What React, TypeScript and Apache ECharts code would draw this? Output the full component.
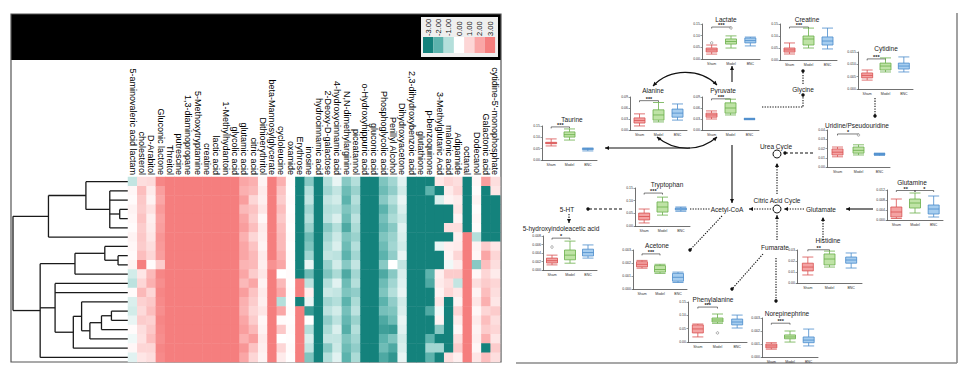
import React, { useEffect, useRef } from 'react';
import * as echarts from 'echarts';

const FONT = 'Liberation Sans, Arial, sans-serif';

// ---------- heatmap data ----------
const metaboliteLabels = [
  '5-aminovaleric acid lactam', 'cholesterol', 'D-Arabitol', 'Gluconic lactone', 'Threitol', 'putrescine',
  '1,3-diaminopropane', '5-Methoxytryptamine', 'creatine', 'lactic acid', '1-Methylhydantoin', 'glycolic acid',
  'glutamic acid', 'citric acid', 'Dithioerythritol', 'beta-Mannosylglycerate', 'cycloleucine', 'oxamide',
  'Erythrose', 'inosine', 'hydrocinnamic acid', '2-Deoxy-D-galactose', '4-hydroxycinnamic acid',
  'N,N-dimethylarginine', 'piceatannol', 'o-Hydroxyhippuric acid', 'gluconic acid', 'Phosphoglycolic acid',
  'Perillyl Alcohol', 'Dihydroxyacetone', '2,3-dihydroxybenzoic acid', 'glutathione', 'p-benzoquinone',
  '3-Methylglutaric Acid', 'malonic acid', 'Adipamide', 'octanal', 'Dodecanol', 'Galactonic acid',
  "cytidine-5'-monophosphate",
];

const sampleRows = ['1','2','3','4','5','6','7','8','9','10','11','12','13','14','15','16','17','18','19','20'];

// one array per metabolite column (20 samples each, top to bottom)
const heatColumns: number[][] = [
  [-0.8, 0.2, 0.1, 0.3, 0.2, 0.1, 0.3, 0.2, 0.1, 0.3, -0.6, -0.9, 0.1, -0.5, -0.6, -0.3, 0.1, -0.2, 0.2, -0.4],
  [0.8, 1.5, 1.3, 1.2, 1.4, 1.2, 1.3, 1.2, 1.5, 3.0, 0.6, 1.0, 1.6, 1.1, 0.9, 1.2, 0.8, 0.7, 1.0, 0.6],
  [0.9, 0.5, 0.3, 0.7, 0.4, 0.5, 0.6, 0.8, 1.0, 0.1, 1.6, 1.8, 1.0, 1.3, 1.5, 1.1, 1.3, 1.5, 1.0, 0.8],
  [2.8, 2.2, 2.0, 2.3, 2.1, 2.2, 2.4, 2.3, 2.2, 1.2, 2.8, 2.6, 2.8, 2.7, 2.6, 2.8, 2.7, 2.6, 2.8, 2.7],
  [3, 3, 3, 3, 3, 3, 3, 3, 3, 3, 3, 3, 3, 3, 3, 3, 3, 3, 3, 3],
  [3, 3, 3, 3, 3, 3, 3, 3, 3, 3, 3, 3, 3, 3, 3, 3, 3, 3, 3, 3],
  [3, 3, 3, 3, 3, 3, 3, 3, 3, 3, 3, 3, 3, 3, 3, 3, 3, 3, 3, 3],
  [3, 3, 3, 3, 3, 3, 3, 3, 3, 3, 3, 3, 3, 3, 3, 3, 3, 3, 3, 3],
  [3, 3, 3, 3, 3, 3, 3, 3, 3, 3, 3, 3, 3, 3, 3, 3, 3, 3, 3, 3],
  [3, 3, 3, 3, 3, 3, 3, 3, 3, 3, 3, 3, 3, 3, 3, 3, 3, 3, 3, 3],
  [3, 3, 3, 3, 3, 3, 3, 3, 3, 3, 3, 3, 3, 3, 3, 3, 3, 3, 3, 3],
  [3, 3, 3, 3, 3, 3, 3, 3, 3, 3, 3, 3, 3, 3, 3, 3, 3, 3, 3, 3],
  [2.0, 1.8, 2.2, 1.6, 2.0, 2.2, 1.8, 2.0, 2.0, 1.7, 2.0, 1.6, 2.2, 1.8, 1.7, 2.0, 2.2, 1.8, 2.4, 2.0],
  [1.8, 1.6, 1.0, 1.4, 1.2, 1.5, 1.0, 1.4, 1.6, 1.6, 1.2, 2.0, 1.4, 1.2, 1.0, 1.2, 1.6, 2.2, 1.4, 1.0],
  [0.3, 0.5, 0.4, 0.6, 0.2, 0.5, 0.4, 0.3, 0.5, 0.4, 0.6, 0.3, 0.5, 0.4, 0.6, 0.2, 0.3, 0.5, 0.4, 0.3],
  [3, 3, 3, 3, 3, 3, 3, 3, 3, 2.5, 3, 3, 3, 3, 3, 3, 3, 3, 3, 3],
  [1.8, 1.4, 1.2, 1.5, 1.3, 1.5, 1.6, 1.6, 1.8, 2.0, 0.0, 1.6, 2.0, -1.0, 2.0, 0.1, 1.3, 0.0, 1.0, 0.5],
  [0.1, 0.05, 0.1, 0.05, 0.1, 0.05, 0.1, 0.05, 0.1, 0.05, 0.1, 0.05, 0.1, 0.05, 0.1, 0.05, 0.1, 0.05, 0.1, 0.05],
  [-3, -3, -3, -3, -3, -3, -3, -3, -3, -3, -3, 3, 3, -3, 3, 3, 3, 3, 3, 3],
  [-1.5, -1.0, -0.8, -1.2, -1.0, -1.3, -1.8, -1.6, -1.2, -0.3, -1.8, -0.9, 0.4, -0.3, -2.5, 0.0, -1.0, -0.5, -0.8, -1.6],
  [-3, -3, -3, -3, -3, -3, -3, -3, -3, -3, -3, -3, -3, -3, -3, -3, -3, -3, -3, -3],
  [-1.0, -1.2, -0.8, -1.0, -0.9, -1.5, -1.2, -1.0, -0.8, -1.3, -1.6, -1.0, -0.7, -1.2, -0.9, -1.4, -1.1, -0.8, -1.5, -1.0],
  [-0.3, -0.8, -0.6, -0.9, -0.5, -1.0, -0.7, -0.5, -0.9, -0.6, -1.1, -0.4, -0.8, -1.0, -0.6, -0.9, -0.5, -0.8, -0.7, -0.4],
  [-1.5, -1.8, -2.0, -1.6, -1.8, -2.2, -1.6, -1.8, -2.0, -1.5, -2.2, -1.8, -1.6, -2.0, -1.7, -1.9, -2.1, -1.6, -1.8, -2.0],
  [-1.0, -1.3, -1.0, -1.2, -0.9, -1.1, -1.3, -1.0, -1.2, -0.8, -1.2, -1.0, -1.4, -1.1, -0.9, -1.3, -1.0, -1.2, -1.4, -1.1],
  [-3, -3, -3, -3, -3, -3, -3, -3, -3, -3, -3, -3, -3, -3, -3, -3, -3, -3, -3, -3],
  [-3, -3, -3, -3, -3, -3, -3, -3, -3, -3, -3, -3, -3, -3, -3, -3, -3, -3, -3, -3],
  [-1.6, -1.8, -1.5, -2.0, -1.7, -1.9, -1.6, -1.8, -2.0, -1.5, -2.2, -1.8, -1.6, -2.0, -1.7, -2.2, -2.4, -2.0, -1.8, -2.2],
  [-1.2, -1.4, -1.0, -1.3, -1.1, -1.5, -1.3, -1.2, -1.4, 0.0, -1.5, -1.2, -1.0, -1.4, -1.6, -1.8, -2.5, -1.6, -2.2, -2.6],
  [-0.4, -0.6, -0.3, -0.5, -0.7, -0.4, -0.5, -0.6, -0.3, -0.8, -0.5, -0.4, -0.3, -0.6, -0.5, -0.3, -0.4, -0.6, -0.5, -0.3],
  [-3, -3, -3, -3, -3, -3, -3, -3, -3, -3, -3, -3, -3, -3, -3, -3, -3, -3, -3, -3],
  [-3, -3, -3, -3, -3, -3, -3, -3, -3, -3, -3, -3, -3, -3, -3, -3, -3, -3, -3, -3],
  [-3, -2.0, -3, -3, -3, -3, -3, -3, -3, -3, -2.0, -2.2, -3, -3, -2.2, -3, -3, -2.0, -1.2, -2.0],
  [0.6, -3, -0.5, -3, -3, -3, -3, -0.3, -3, -3, 0.4, 0.5, 0.3, 0.6, -0.2, 0.3, -1.5, -3, -1.2, -3],
  [1.0, 0.5, 0.3, -3, -3, 0.8, -3, 0.4, 0.3, -0.2, 1.2, 0.8, 1.0, -3, -3, -3, -3, -3, -3, 0.8],
  [0.8, 1.0, 0.5, 0.6, 0.3, 0.8, 0.4, 0.5, 1.0, 0.5, 1.2, -0.8, 0.6, 0.3, 1.0, 0.5, 0.2, 0.8, 1.2, 0.4],
  [-3, -3, -3, -3, -3, -3, 3, 3, 3, 3, 3, 3, 3, 3, 3, 3, 3, 3, 3, 3],
  [0.2, 0.1, 0.3, 0.1, 0.2, 0.1, -1.0, 0.3, 0.2, -1.5, 0.2, 0.8, 0.3, 0.6, 0.2, 0.5, 0.3, 0.4, 0.2, 0.6],
  [2.2, -3, -3, -3, -3, -3, -3, 1.2, 2.0, 1.5, 1.0, 1.2, 1.5, 1.8, 1.0, 1.5, 1.2, 1.8, -3, 1.5],
  [0.8, 0.6, -3, -3, -3, -3, -3, 0.6, 1.0, 0.8, 0.5, 1.0, 0.8, 0.6, 1.2, 0.8, 1.0, 0.6, 1.2, 0.8],
];

// dendrogram: [height, ...children]; a number is a leaf (row index)
const dendroTree: any = [347,
  [240, [127, 0, [55, 1, 2, [25, 3, 4], 5]], 6],
  [265,
    [160, [70, 7, [30, 8, 9]], 10],
    [220, 11, 12, [165, [140, 13, [115, [80, [50, 14, 15], 16], 17]], 18]],
    19],
];

const legendTicks = [-3, -2, -1, 0, 1, 2, 3];
const heatPalette = ['#14827c', '#5cb3ad', '#b4dfdb', '#ffffff', '#fdd6d6', '#faa6a6', '#f57e7e'];

// ---------- boxplot data: [min, Q1, median, Q3, max] for Sham, Model, BNC ----------
const groups = ['Sham', 'Model', 'BNC'];
const lactateBoxes = [[0.021, 0.030, 0.039, 0.047, 0.060], [0.047, 0.064, 0.075, 0.086, 0.099], [0.056, 0.069, 0.079, 0.090, 0.094]];
const creatineBoxes = [[0.025, 0.033, 0.042, 0.050, 0.071], [0.050, 0.0625, 0.0875, 0.100, 0.133], [0.046, 0.0625, 0.079, 0.096, 0.133]];
const cytidineBoxes = [[0.0036, 0.0045, 0.0055, 0.0065, 0.0077], [0.0069, 0.0077, 0.0093, 0.0105, 0.0126], [0.0069, 0.0081, 0.0093, 0.0105, 0.0130]];
const alanineBoxes = [[0.011, 0.019, 0.026, 0.033, 0.044], [0.022, 0.027, 0.041, 0.055, 0.075], [0.027, 0.035, 0.046, 0.057, 0.071]];
const pyruvateBoxes = [[0.030, 0.035, 0.041, 0.046, 0.052], [0.041, 0.046, 0.060, 0.074, 0.084], [0.028, 0.029, 0.030, 0.031, 0.032]];
const taurineBoxes = [[0.062, 0.072, 0.075, 0.078, 0.093], [0.088, 0.101, 0.112, 0.124, 0.137], [0.040, 0.047, 0.0485, 0.050, 0.053]];
const uridineBoxes = [[0.011, 0.013, 0.016, 0.0195, 0.0216], [0.013, 0.015, 0.018, 0.0216, 0.024], [0.0125, 0.0135, 0.014, 0.0145, 0.015]];
const tryptophanBoxes = [[0.012, 0.024, 0.0375, 0.051, 0.067], [0.043, 0.055, 0.075, 0.095, 0.114], [0.058, 0.063, 0.067, 0.071, 0.075]];
const glutamineBoxes = [[0.0006, 0.0012, 0.0032, 0.0052, 0.0084], [0.0028, 0.0048, 0.0068, 0.0084, 0.0108], [0.0012, 0.0024, 0.0044, 0.0060, 0.0096]];
const hiaaBoxes = [[0.0012, 0.00165, 0.0022, 0.0028, 0.0035], [0.0016, 0.0024, 0.0035, 0.0047, 0.0068], [0.0028, 0.0033, 0.0041, 0.0049, 0.0059]];
const acetoneBoxes = [[0.0016, 0.0017, 0.0019, 0.0021, 0.0022], [0.0012, 0.0013, 0.0015, 0.0018, 0.0019], [0.0005, 0.0006, 0.0009, 0.0012, 0.0013]];
const histidineBoxes = [[0.0073, 0.011, 0.0145, 0.018, 0.0236], [0.0145, 0.0164, 0.0218, 0.0264, 0.029], [0.0136, 0.018, 0.0209, 0.0236, 0.0273]];
const phenylalanineBoxes = [[0.019, 0.034, 0.049, 0.064, 0.0675], [0.070, 0.075, 0.0825, 0.090, 0.105], [0.0525, 0.064, 0.075, 0.086, 0.101]];
const norepinephrineBoxes = [[0.0006, 0.0007, 0.00085, 0.0010, 0.0011], [0.00115, 0.0014, 0.00154, 0.0017, 0.0020], [0.00085, 0.0011, 0.0013, 0.00154, 0.00215]];

// outliers: [groupIndex, value]
const lactateOutliers = [[0, 0.069], [1, 0.133]];
const uridineOutliers = [[1, 0.0346]];
const hiaaOutliers = [[0, 0.0054]];
const phenylalanineOutliers = [[1, 0.034]];

// significance: [fromGroup, toGroup, value, label]
const lactateSig = [[0, 1, 0.137, '***']];
const creatineSig = [[0, 1, 0.1375, '***']];
const cytidineSig = [[0, 1, 0.0122, '***']];
const alanineSig = [[0, 1, 0.080, '***']];
const pyruvateSig = [[0, 1, 0.085, '***']];
const taurineSig = [[0, 1, 0.146, '***']];
const uridineSig = [[0, 1, 0.0357, '*']];
const tryptophanSig = [[0, 1, 0.13, '***']];
const glutamineSig = [[0, 1, 0.0118, '**'], [1, 2, 0.0118, '*']];
const hiaaSig = [[0, 1, 0.0075, '*']];
const acetoneSig = [[0, 1, 0.0027, '***']];
const histidineSig = [[0, 1, 0.0302, '**']];
const phenylalanineSig = [[0, 1, 0.131, '***']];
const norepinephrineSig = [[0, 1, 0.0026, '***']];

// layout (positions and axis ranges only)
const panels = [
  { name: 'Lactate', boxes: lactateBoxes, out: lactateOutliers, sig: lactateSig, left: 702, top: 24, w: 58, h: 35, max: 0.15, step: 0.05, dec: 2, tx: 726, ty: 19 },
  { name: 'Creatine', boxes: creatineBoxes, out: [], sig: creatineSig, left: 780, top: 24, w: 57, h: 36, max: 0.15, step: 0.05, dec: 2, tx: 807, ty: 19 },
  { name: 'Cytidine', boxes: cytidineBoxes, out: [], sig: cytidineSig, left: 858, top: 52, w: 55, h: 37, max: 0.015, step: 0.005, dec: 3, tx: 886, ty: 48 },
  { name: 'Alanine', boxes: alanineBoxes, out: [], sig: alanineSig, left: 630, top: 97, w: 57, h: 33, max: 0.09, step: 0.03, dec: 2, tx: 653, ty: 90.5 },
  { name: 'Pyruvate', boxes: pyruvateBoxes, out: [], sig: pyruvateSig, left: 702, top: 97, w: 57, h: 33, max: 0.09, step: 0.03, dec: 2, tx: 723, ty: 90.5 },
  { name: 'Taurine', boxes: taurineBoxes, out: [], sig: taurineSig, left: 542, top: 126, w: 55, h: 34, max: 0.15, step: 0.05, dec: 2, tx: 572, ty: 119 },
  { name: 'Uridine/Pseudouridine', boxes: uridineBoxes, out: uridineOutliers, sig: uridineSig, left: 827, top: 130, w: 63, h: 37, max: 0.04, step: 0.01, dec: 2, tx: 857, ty: 125 },
  { name: 'Tryptophan', boxes: tryptophanBoxes, out: [], sig: tryptophanSig, left: 635, top: 188, w: 55, h: 38, max: 0.15, step: 0.05, dec: 2, tx: 667, ty: 184 },
  { name: 'Glutamine', boxes: glutamineBoxes, out: [], sig: glutamineSig, left: 887, top: 190, w: 56, h: 30, max: 0.012, step: 0.004, dec: 3, tx: 912, ty: 182 },
  { name: '5-hydroxyindoleacetic acid', boxes: hiaaBoxes, out: hiaaOutliers, sig: hiaaSig, left: 543, top: 236, w: 54, h: 34, max: 0.008, step: 0.002, dec: 3, tx: 561, ty: 228 },
  { name: 'Acetone', boxes: acetoneBoxes, out: [], sig: acetoneSig, left: 633, top: 250, w: 54, h: 39, max: 0.003, step: 0.001, dec: 3, tx: 657, ty: 245 },
  { name: 'Histidine', boxes: histidineBoxes, out: [], sig: histidineSig, left: 797, top: 250, w: 65, h: 33, max: 0.03, step: 0.01, dec: 2, tx: 828, ty: 240 },
  { name: 'Phenylalanine', boxes: phenylalanineBoxes, out: phenylalanineOutliers, sig: phenylalanineSig, left: 688, top: 302, w: 59, h: 40, max: 0.15, step: 0.05, dec: 2, tx: 713, ty: 299 },
  { name: 'Norepinephrine', boxes: norepinephrineBoxes, out: [], sig: norepinephrineSig, left: 762, top: 318, w: 56, h: 39, max: 0.003, step: 0.001, dec: 3, tx: 787, ty: 313 },
];

const boxFills = ['#f4a3a3', '#bfe3a6', '#a6cdef'];
const boxStrokes = ['#d85050', '#6aae4a', '#4a8ccc'];

// pathway text nodes
const pathwayLabels = [
  { text: 'Glycine', x: 803, y: 89 },
  { text: 'Urea Cycle', x: 776, y: 146 },
  { text: 'Citric Acid Cycle', x: 777, y: 200 },
  { text: 'Acetyl-CoA', x: 727, y: 209 },
  { text: 'Glutamate', x: 821, y: 209 },
  { text: '5-HT', x: 567, y: 209 },
  { text: 'Fumarate', x: 775, y: 247 },
];
const cycleCircles = [[777, 154], [777, 209]];

// arrows: points, style, head
const arrows: any[] = [
  { p: [[732, 82], [732, 66]], s: 'solid', h: 'tri' },
  { p: [[803, 84], [803, 71]], s: 'dot', h: 'dot' },
  { p: [[762, 107], [803, 107], [803, 95]], s: 'dot', h: 'dot' },
  { p: [[875, 98], [875, 116]], s: 'dot', h: 'dot' },
  { p: [[690, 148], [605, 148]], s: 'solid', h: 'tri' },
  { p: [[732, 145], [732, 203]], s: 'solid', h: 'tri' },
  { p: [[813, 153], [785, 153]], s: 'dash', h: 'dot' },
  { p: [[777, 194], [777, 163]], s: 'dot', h: 'tri' },
  { p: [[873, 209], [846, 209]], s: 'solid', h: 'tri' },
  { p: [[804, 209], [784, 209]], s: 'dot', h: 'tri' },
  { p: [[771, 209], [749, 209]], s: 'dot', h: 'tri' },
  { p: [[690, 209], [710, 209]], s: 'dot', h: 'none' },
  { p: [[622, 209], [588, 209]], s: 'dash', h: 'dot' },
  { p: [[569, 214], [569, 223]], s: 'dot', h: 'tri' },
  { p: [[722, 216], [690, 250]], s: 'dot', h: 'dot' },
  { p: [[823, 240], [823, 217]], s: 'dot', h: 'tri' },
  { p: [[777, 240], [777, 215]], s: 'dot', h: 'tri' },
  { p: [[763, 254], [732, 289]], s: 'dot', h: 'dot' },
  { p: [[776, 258], [776, 301]], s: 'dot', h: 'dot' },
];
const arcs = [
  { a: [653, 86], c1: [670, 68], c2: [700, 68], b: [717, 85] },
  { a: [657, 137], c1: [675, 152], c2: [700, 152], b: [717, 137] },
];

function triHead(tip: number[], from: number[]) {
  const dx = tip[0] - from[0], dy = tip[1] - from[1];
  const L = Math.hypot(dx, dy) || 1;
  const ux = dx / L, uy = dy / L;
  const len = 4, half = 2;
  const bx = tip[0] - ux * len, by = tip[1] - uy * len;
  return {
    type: 'polygon',
    shape: { points: [[tip[0], tip[1]], [bx - uy * half, by + ux * half], [bx + uy * half, by - ux * half]] },
    style: { fill: '#111' },
  };
}

function buildSegments(node: any, out: number[][]): number[] {
  if (typeof node === 'number') return [0, node];
  const [h, ...kids] = node;
  const pos = kids.map((k: any) => buildSegments(k, out));
  const ys = pos.map((p: number[]) => p[1]);
  const y0 = Math.min(...ys), y1 = Math.max(...ys);
  out.push([h, y0, h, y1]);
  pos.forEach((p: number[]) => out.push([h, p[1], p[0], p[1]]));
  return [h, (y0 + y1) / 2];
}

function buildOption() {
  const grids: any[] = [];
  const xAxes: any[] = [];
  const yAxes: any[] = [];
  const series: any[] = [];
  const graphic: any[] = [];

  // ----- left panel frame -----
  graphic.push({ type: 'rect', shape: { x: 11, y: 14, width: 490, height: 46 }, style: { fill: '#000' } });
  graphic.push({ type: 'rect', shape: { x: 11, y: 14, width: 490, height: 348 }, style: { fill: 'none', stroke: '#555', lineWidth: 1.2 } });
  // colour legend
  graphic.push({ type: 'rect', shape: { x: 421, y: 17, width: 77, height: 40 }, style: { fill: '#efefef' } });
  legendTicks.forEach((t, i) => {
    const x = 423 + i * 10.3;
    graphic.push({ type: 'rect', shape: { x, y: 37, width: 10.3, height: 16 }, style: { fill: heatPalette[i] } });
    graphic.push({
      type: 'text', x: x + 5.2, y: 36, rotation: Math.PI / 2,
      style: { text: t.toFixed(2), x: 0, y: 0, align: 'left', verticalAlign: 'middle', fontSize: 7.5, fontFamily: FONT, fill: '#111' },
    });
  });

  // ----- dendrogram -----
  const segs: number[][] = [];
  buildSegments(dendroTree, segs);
  grids.push({ left: 12, top: 177, width: 116, height: 185 });
  xAxes.push({ type: 'value', gridIndex: 0, min: 0, max: 350, inverse: true, show: false });
  yAxes.push({ type: 'value', gridIndex: 0, min: -0.5, max: 19.5, inverse: true, show: false });
  series.push({
    type: 'custom', xAxisIndex: 0, yAxisIndex: 0, silent: true, clip: false,
    data: segs,
    renderItem: (_p: any, api: any) => {
      const a = api.coord([api.value(0), api.value(1)]);
      const b = api.coord([api.value(2), api.value(3)]);
      return { type: 'line', shape: { x1: a[0], y1: a[1], x2: b[0], y2: b[1] }, style: { stroke: '#1a1a1a', lineWidth: 1.3 } };
    },
  });

  // ----- heatmap -----
  const heatData: number[][] = [];
  heatColumns.forEach((col, c) => col.forEach((v, r) => heatData.push([c, r, v])));
  grids.push({ left: 128, top: 177, width: 372, height: 185 });
  xAxes.push({
    type: 'category', gridIndex: 1, data: metaboliteLabels, position: 'top',
    axisLine: { show: false }, axisTick: { show: false },
    axisLabel: { rotate: 90, interval: 0, fontSize: 9, margin: 2, color: '#000', fontFamily: FONT },
  });
  yAxes.push({ type: 'category', gridIndex: 1, data: sampleRows, inverse: true, show: false });
  series.push({
    type: 'heatmap', xAxisIndex: 1, yAxisIndex: 1, data: heatData, silent: true,
    emphasis: { disabled: true },
  });

  // ----- right panel frame -----
  graphic.push({ type: 'line', shape: { x1: 957, y1: 13, x2: 957, y2: 363 }, style: { stroke: '#8a8a8a', lineWidth: 1.6 } });
  graphic.push({ type: 'line', shape: { x1: 516, y1: 363, x2: 957, y2: 363 }, style: { stroke: '#8a8a8a', lineWidth: 1.6 } });

  // ----- boxplot panels -----
  panels.forEach((p, k) => {
    const gi = k + 2;
    grids.push({ left: p.left, top: p.top, width: p.w, height: p.h });
    xAxes.push({
      type: 'category', gridIndex: gi, data: groups,
      axisLine: { lineStyle: { color: '#333', width: 0.7 } }, axisTick: { show: false },
      axisLabel: { fontSize: 3.5, margin: 3, color: '#333', fontFamily: FONT },
    });
    yAxes.push({
      type: 'value', gridIndex: gi, min: 0, max: p.max, interval: p.step,
      splitLine: { show: false },
      axisLine: { show: true, lineStyle: { color: '#333', width: 0.7 } },
      axisTick: { show: true, length: 1.5, lineStyle: { width: 0.5 } },
      axisLabel: { fontSize: 3.5, margin: 2, color: '#333', fontFamily: FONT, formatter: (v: number) => v.toFixed(p.dec) },
    });
    series.push({
      type: 'boxplot', xAxisIndex: gi, yAxisIndex: gi, silent: true, boxWidth: [9, 11],
      data: p.boxes.map((b, j) => ({ value: b, itemStyle: { color: boxFills[j], borderColor: boxStrokes[j], borderWidth: 0.8 } })),
    });
    if (p.out.length) {
      series.push({
        type: 'scatter', xAxisIndex: gi, yAxisIndex: gi, silent: true, symbolSize: 2.5,
        data: p.out,
        itemStyle: { color: '#fff', borderColor: '#555', borderWidth: 0.6 },
      });
    }
    const sig = p.sig;
    series.push({
      type: 'custom', xAxisIndex: gi, yAxisIndex: gi, silent: true, clip: false,
      data: sig.map((s: any[]) => [s[0], s[2]]),
      renderItem: (params: any, api: any) => {
        const s: any = sig[params.dataIndex];
        const a = api.coord([s[0], s[2]]);
        const b = api.coord([s[1], s[2]]);
        return {
          type: 'group',
          children: [
            { type: 'polyline', shape: { points: [[a[0], a[1] + 1.5], [a[0], a[1]], [b[0], b[1]], [b[0], b[1] + 1.5]] }, style: { stroke: '#222', lineWidth: 0.6, fill: 'none' } },
            { type: 'text', style: { text: s[3], x: (a[0] + b[0]) / 2, y: a[1] + 1.2, align: 'center', verticalAlign: 'bottom', fontSize: 5.5, fontWeight: 'bold', fill: '#222', fontFamily: FONT } },
          ],
        };
      },
    });
    graphic.push({
      type: 'text', x: p.tx, y: p.ty,
      style: { text: p.name, align: 'center', verticalAlign: 'middle', fontSize: 6.5, fill: '#222', fontFamily: FONT },
    });
  });

  // ----- pathway elements -----
  pathwayLabels.forEach((l) => {
    graphic.push({ type: 'text', x: l.x, y: l.y, style: { text: l.text, align: 'center', verticalAlign: 'middle', fontSize: 6.5, fill: '#222', fontFamily: FONT } });
  });
  cycleCircles.forEach((c) => {
    graphic.push({ type: 'circle', shape: { cx: c[0], cy: c[1], r: 4 }, style: { fill: '#fff', stroke: '#111', lineWidth: 1 } });
  });
  arrows.forEach((ar) => {
    const dash = ar.s === 'dash' ? [3, 2] : ar.s === 'dot' ? [1.3, 1.3] : null;
    graphic.push({ type: 'polyline', shape: { points: ar.p }, style: { stroke: '#111', lineWidth: 1.1, fill: 'none', lineDash: dash } });
    const n = ar.p.length;
    const tip = ar.p[n - 1], prev = ar.p[n - 2];
    if (ar.h === 'tri') graphic.push(triHead(tip, prev));
    if (ar.h === 'dot') graphic.push({ type: 'circle', shape: { cx: tip[0], cy: tip[1], r: 1.7 }, style: { fill: '#111' } });
  });
  arcs.forEach((c) => {
    graphic.push({
      type: 'bezierCurve',
      shape: { x1: c.a[0], y1: c.a[1], cpx1: c.c1[0], cpy1: c.c1[1], cpx2: c.c2[0], cpy2: c.c2[1], x2: c.b[0], y2: c.b[1] },
      style: { stroke: '#111', lineWidth: 1.1, fill: 'none' },
    });
    graphic.push(triHead(c.a, c.c1));
    graphic.push(triHead(c.b, c.c2));
  });

  return {
    animation: false,
    backgroundColor: '#fff',
    textStyle: { fontFamily: FONT },
    grid: grids,
    xAxis: xAxes,
    yAxis: yAxes,
    visualMap: {
      type: 'continuous', show: false, min: -3, max: 3, seriesIndex: 1, dimension: 2,
      inRange: { color: heatPalette },
    },
    series,
    graphic: { elements: graphic },
  };
}

export default function App() {
  const ref = useRef<HTMLDivElement>(null);
  useEffect(() => {
    const chart = echarts.init(ref.current as HTMLDivElement, null, { renderer: 'svg' });
    chart.setOption(buildOption() as any);
    return () => chart.dispose();
  }, []);
  return (
    <div
      ref={ref}
      style={{ position: 'fixed', left: 0, top: 0, width: 977, height: 379, background: '#fff' }}
    />
  );
}
